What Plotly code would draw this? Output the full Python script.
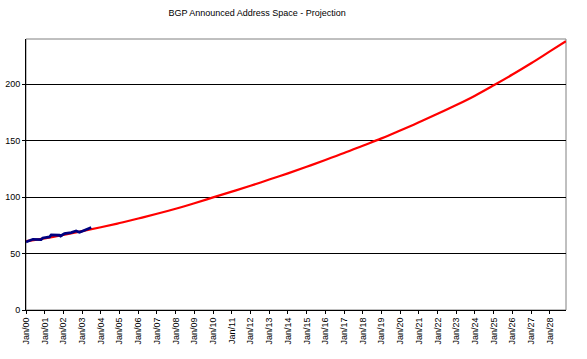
import plotly.graph_objects as go

# Actual measured address space, early 2000 - mid 2003
actual_dates = ["2000-01-01", "2000-04-12", "2000-05-15", "2000-10-22", "2000-11-25",
                "2001-04-05", "2001-05-08", "2001-10-15", "2001-11-07", "2002-01-22",
                "2002-06-01", "2002-09-05", "2002-11-10", "2003-01-15", "2003-03-22",
                "2003-06-28"]
actual_values = [60.3, 61.8, 62.6, 62.4, 63.8, 64.7, 66.5, 66.2, 65.5, 67.7,
                 68.6, 70.0, 68.8, 70.0, 71.2, 73.0]

# Projection curve
proj_dates = ["2000-01-01", "2001-01-01", "2002-01-01", "2003-01-01", "2004-01-01",
              "2005-01-01", "2006-01-01", "2007-01-01", "2008-01-01", "2009-01-01",
              "2010-01-01", "2011-01-01", "2012-01-01", "2013-01-01", "2014-01-01",
              "2015-01-01", "2016-01-01", "2017-01-01", "2018-01-01", "2019-01-01",
              "2020-01-01", "2021-01-01", "2022-01-01", "2023-01-01", "2024-01-01",
              "2025-01-01", "2026-01-01", "2027-01-01", "2028-01-01", "2028-11-10"]
proj_values = [61.0, 63.5, 66.5, 69.8, 73.3, 77.0, 81.0, 85.2, 89.7, 94.6,
               99.7, 104.8, 110.0, 115.5, 121.0, 126.8, 132.8, 139.0, 145.5, 152.0,
               159.0, 166.2, 173.7, 181.5, 189.8, 199.0, 208.5, 218.5, 229.0, 238.0]

tick_vals = [f"{y}-01-01" for y in range(2000, 2029)]
tick_text = [f"Jan/{y % 100:02d}" for y in range(2000, 2029)]
y_ticks = [0, 50, 100, 150, 200]

fig = go.Figure()
fig.add_trace(go.Scatter(x=proj_dates, y=proj_values, mode="lines",
                         line=dict(color="#ff0000", width=2.2, shape="spline"),
                         hoverinfo="skip", showlegend=False))
fig.add_trace(go.Scatter(x=actual_dates, y=actual_values, mode="lines",
                         line=dict(color="#000080", width=2.8),
                         hoverinfo="skip", showlegend=False))

fig.update_layout(
    width=587, height=359,
    margin=dict(l=26, r=21, t=39, b=49, autoexpand=False),
    paper_bgcolor="white", plot_bgcolor="white",
    title=dict(text="BGP Announced Address Space - Projection",
               x=0.428, xref="paper", xanchor="center",
               y=1 - 13 / 359, yref="container", yanchor="middle",
               font=dict(family="Liberation Sans, Arial", size=9, color="black")),
    font=dict(family="Liberation Sans, Arial", size=9, color="black"),
    hovermode=False,
    shapes=[dict(type="rect", xref="paper", yref="paper", x0=0, y0=0, x1=1, y1=1,
                 line=dict(color="#808080", width=1), layer="below")],
)
fig.update_xaxes(type="date", range=["2000-01-01", "2028-11-12"], automargin=False,
                 tickmode="array", tickvals=tick_vals, ticktext=tick_text,
                 tickangle=-90, showgrid=False, showline=True, linecolor="black",
                 linewidth=1, ticks="outside", ticklen=3, tickcolor="black",
                 tickfont=dict(size=9), zeroline=False)
fig.update_yaxes(range=[0, 240], tickmode="array", tickvals=y_ticks, automargin=False,
                 showgrid=True, gridcolor="black", gridwidth=1,
                 showline=True, linecolor="black", linewidth=1,
                 ticks="outside", ticklen=3, tickcolor="black",
                 tickfont=dict(size=9), zeroline=False)

fig.write_html("out.html", config={"displayModeBar": False, "staticPlot": True},
               post_script="document.body.style.margin='0';document.body.style.padding='0';")
